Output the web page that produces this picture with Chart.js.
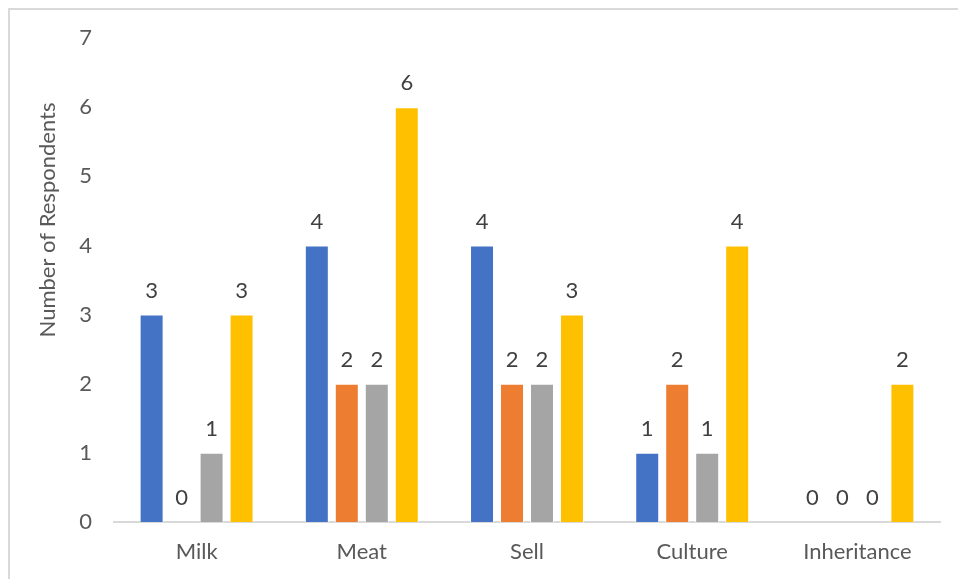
<!DOCTYPE html>
<html>
<head>
<meta charset="utf-8">
<script src="https://cdn.jsdelivr.net/npm/chart.js@4/dist/chart.umd.min.js"></script>
<style>
  html, body { margin: 0; padding: 0; background: #fff; }
  #wrap { width: 958px; height: 579px; }
</style>
</head>
<body>
<div id="wrap"><canvas id="chart" width="958" height="579"></canvas></div>
<script>
// chart data
const categories = ["Milk", "Meat", "Sell", "Culture", "Inheritance"];
const series1 = [3, 4, 4, 1, 0];
const series2 = [0, 2, 2, 2, 0];
const series3 = [1, 2, 2, 1, 0];
const series4 = [3, 6, 3, 4, 2];
const yTicks = [0, 1, 2, 3, 4, 5, 6, 7];
const yTitle = "Number of Respondents";

const FONT = "Lato, 'Open Sans', sans-serif";

// outer frame + y axis title
const framePlugin = {
  id: "frame",
  beforeDraw(chart) {
    const ctx = chart.ctx;
    ctx.save();
    ctx.strokeStyle = "#d9d9d9";
    ctx.lineWidth = 2;
    ctx.beginPath();
    ctx.moveTo(9, 1000);
    ctx.lineTo(9, 9);
    ctx.lineTo(1000, 9);
    ctx.stroke();
    ctx.restore();
  },
  afterDraw(chart) {
    const ctx = chart.ctx;
    ctx.save();
    ctx.translate(48, 220);
    ctx.rotate(-Math.PI / 2);
    ctx.fillStyle = "#595959";
    ctx.font = "22px " + FONT;
    ctx.textAlign = "center";
    ctx.textBaseline = "middle";
    ctx.fillText(yTitle, 0, 0);
    ctx.restore();
  },
};

// value labels above bars
const valueLabels = {
  id: "valueLabels",
  afterDatasetsDraw(chart) {
    const ctx = chart.ctx;
    ctx.save();
    ctx.fillStyle = "#404040";
    ctx.font = "22px " + FONT;
    ctx.textAlign = "center";
    ctx.textBaseline = "middle";
    chart.data.datasets.forEach((ds, i) => {
      chart.getDatasetMeta(i).data.forEach((bar, j) => {
        ctx.fillText(String(ds.data[j]), bar.x, bar.y - 24);
      });
    });
    ctx.restore();
  },
};

const ctx = document.getElementById("chart").getContext("2d");
new Chart(ctx, {
  type: "bar",
  data: {
    labels: categories,
    datasets: [
      { label: "Series 1", data: series1, backgroundColor: "#4472C4" },
      { label: "Series 2", data: series2, backgroundColor: "#ED7D31" },
      { label: "Series 3", data: series3, backgroundColor: "#A5A5A5" },
      { label: "Series 4", data: series4, backgroundColor: "#FFC000" },
    ].map((d) => Object.assign(d, {
      borderColor: "#ffffff",
      borderWidth: 1,
      categoryPercentage: 0.726,
      barPercentage: 0.8,
    })),
  },
  options: {
    responsive: false,
    animation: false,
    layout: { padding: { top: 38, right: 18, bottom: 0, left: 0 } },
    plugins: {
      legend: { display: false },
      tooltip: { enabled: false },
    },
    scales: {
      x: {
        grid: { display: false, drawTicks: false },
        border: { display: true, color: "#d9d9d9", width: 2 },
        ticks: { color: "#595959", font: { family: FONT, size: 22 }, padding: 17 },
        afterFit(scale) { scale.height = 57; },
      },
      y: {
        min: 0,
        max: 7,
        grid: { display: false, drawTicks: false },
        border: { display: false },
        afterBuildTicks(scale) { scale.ticks = yTicks.map((v) => ({ value: v })); },
        ticks: { color: "#595959", font: { family: FONT, size: 22 }, padding: 22 },
        afterFit(scale) { scale.width = 114; },
      },
    },
  },
  plugins: [framePlugin, valueLabels],
});
</script>
</body>
</html>
